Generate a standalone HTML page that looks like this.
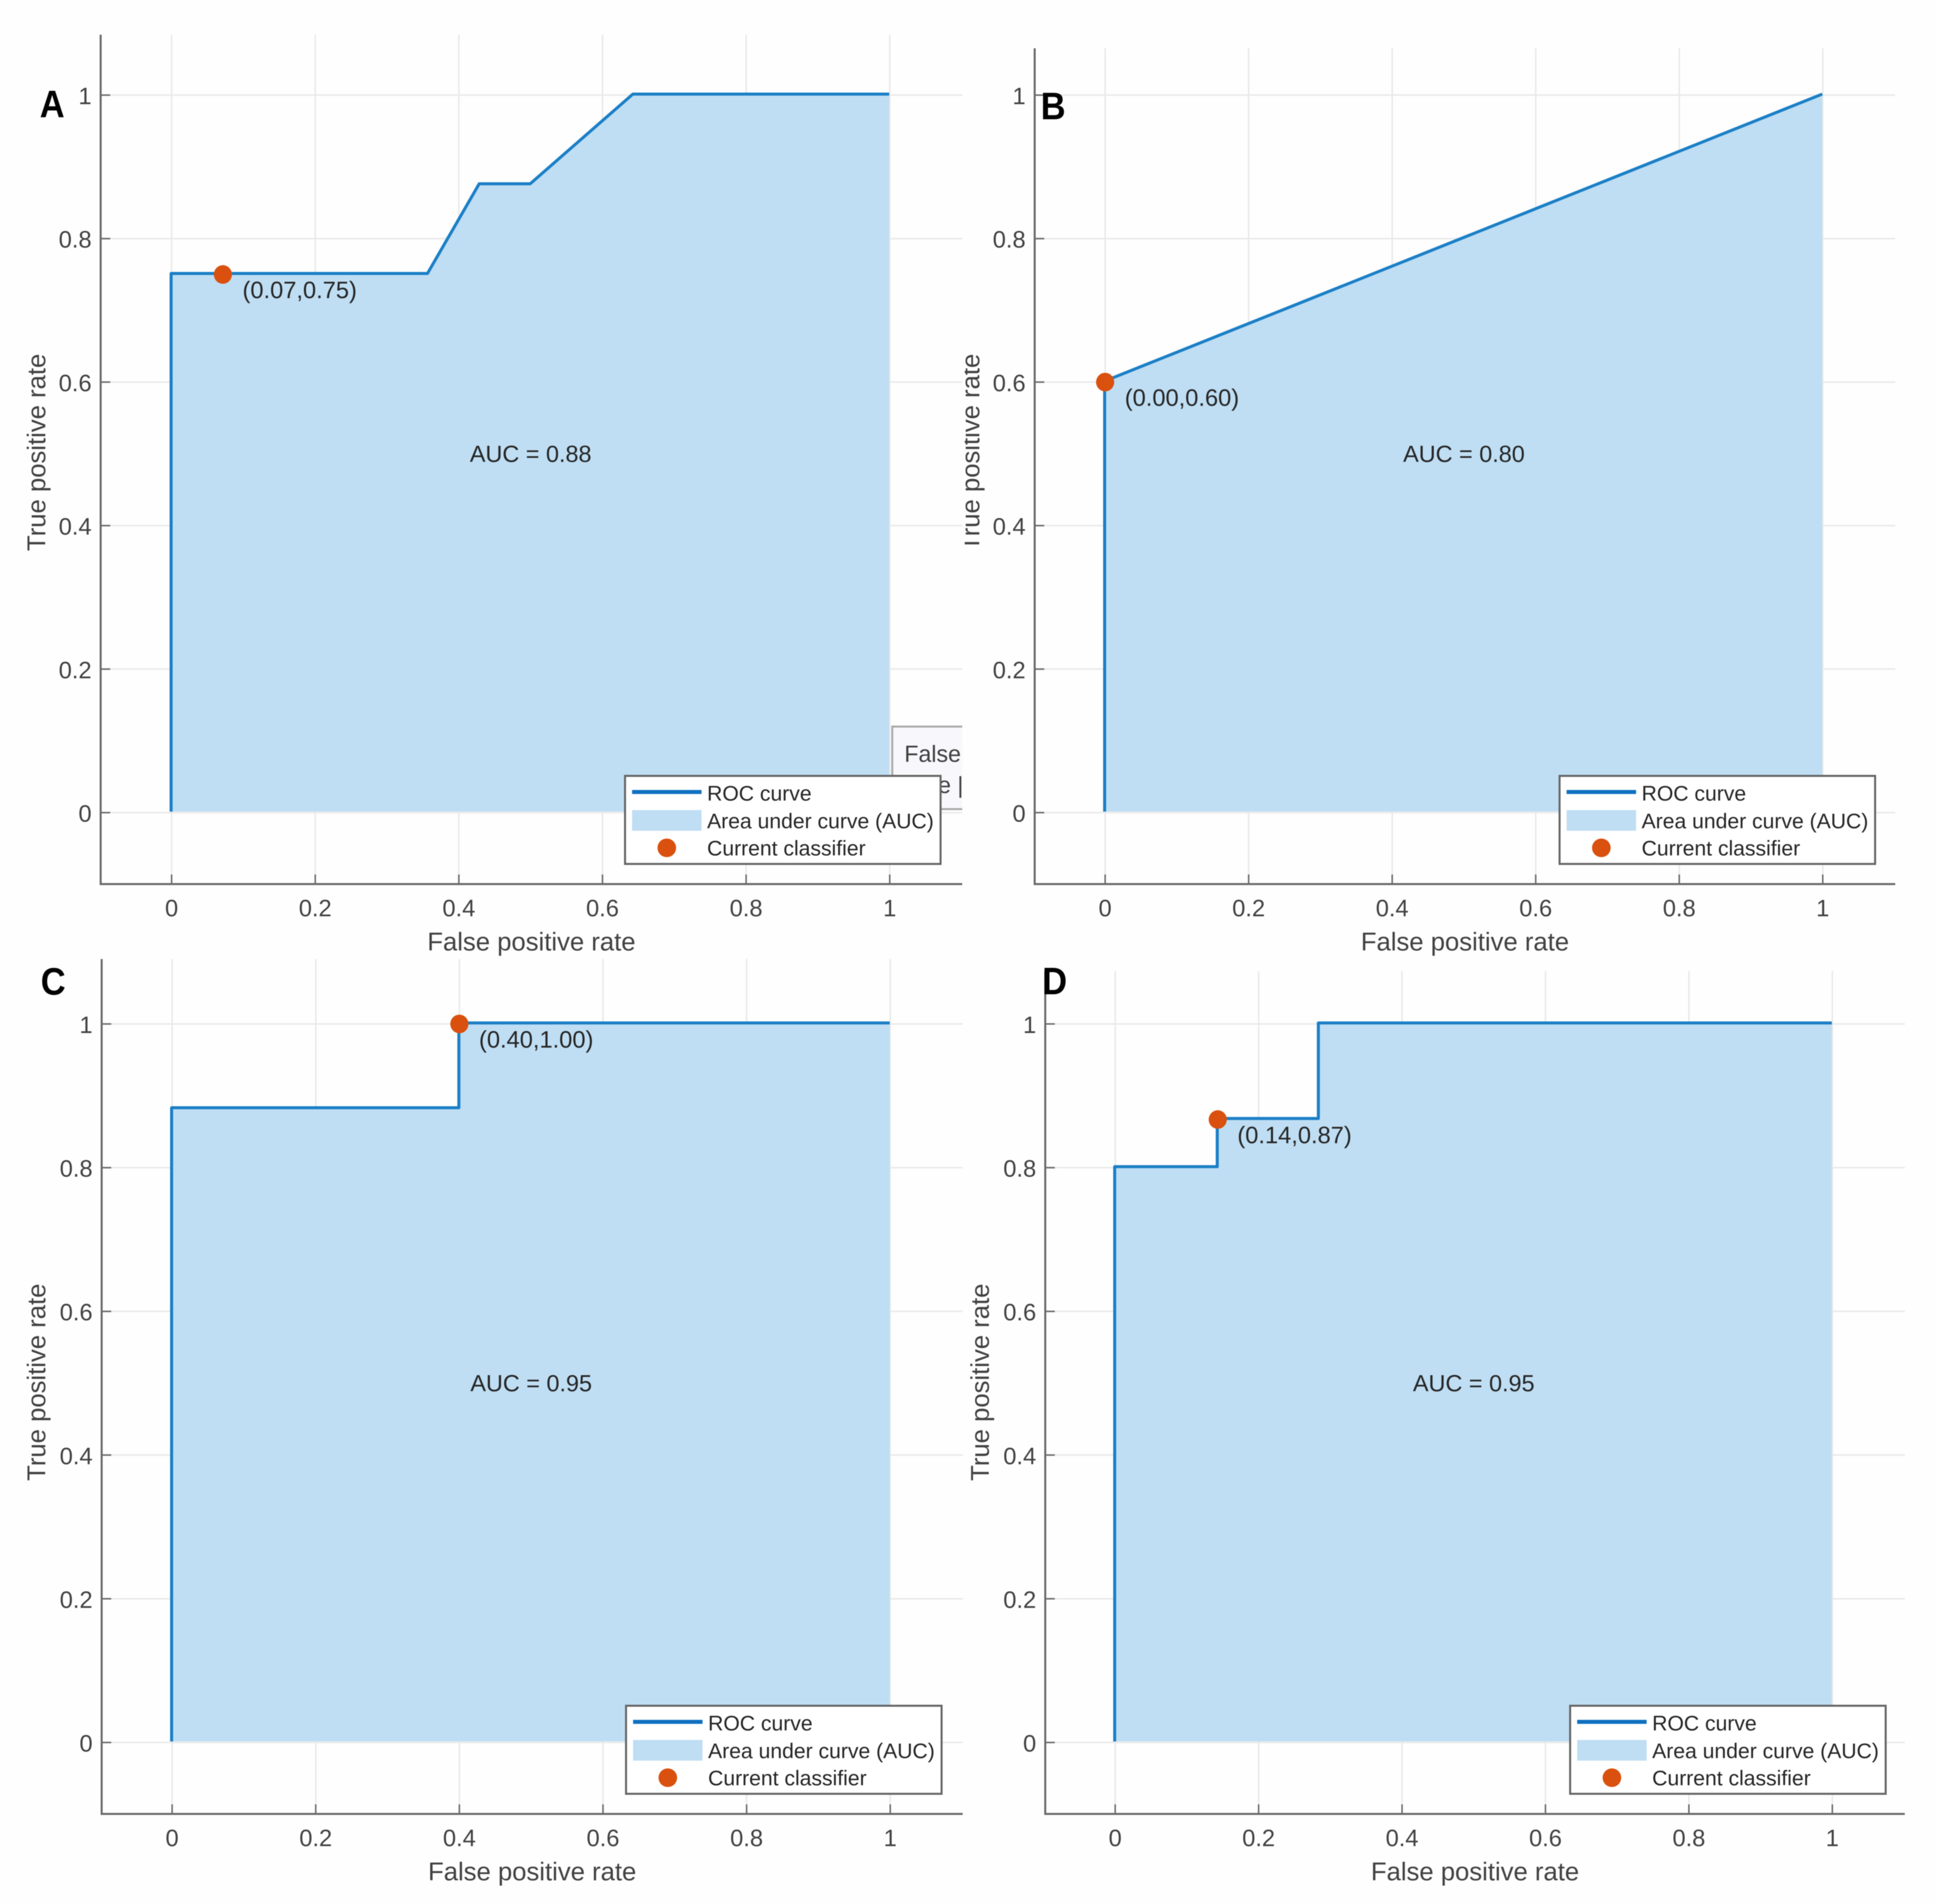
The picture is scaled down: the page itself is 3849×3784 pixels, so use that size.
<!DOCTYPE html>
<html lang="en">
<head>
<meta charset="utf-8">
<title>ROC curves for four classifiers</title>
<style>
html,body{margin:0;padding:0;background:#fefefe;}
#figure{display:block;width:3849px;height:3784px;filter:blur(0.9px);}
text{font-family:"Liberation Sans",Arial,sans-serif;}
</style>
</head>
<body>
<svg id="figure" xmlns="http://www.w3.org/2000/svg" width="3849" height="3784" viewBox="0 0 3849 3784">
<defs>
<clipPath id="clip-a"><rect x="0" y="0" width="1912" height="1900"/></clipPath>
<clipPath id="clip-b"><rect x="1917" y="0" width="1932" height="1900"/></clipPath>
</defs>
</svg>
<script>
// Shared axis ticks
const xTickValues = [0, 0.2, 0.4, 0.6, 0.8, 1];
const yTickValues = [0, 0.2, 0.4, 0.6, 0.8, 1];
const tickLabels = ['0', '0.2', '0.4', '0.6', '0.8', '1'];
const legendLabels = ['ROC curve', 'Area under curve (AUC)', 'Current classifier'];
const xAxisTitle = 'False positive rate';
const yAxisTitle = 'True positive rate';

// Panel A series
const panelACurveX = [0, 0, 0.357, 0.429, 0.5, 0.643, 1];
const panelACurveY = [0, 0.75, 0.75, 0.875, 0.875, 1, 1];
const panelAMarker = [0.0714, 0.75];
const panelAAuc = [0.88];

// Panel B series
const panelBCurveX = [0, 0, 1];
const panelBCurveY = [0, 0.6, 1];
const panelBMarker = [0, 0.6];
const panelBAuc = [0.80];

// Panel C series
const panelCCurveX = [0, 0, 0.4, 0.4, 1];
const panelCCurveY = [0, 0.882, 0.882, 1, 1];
const panelCMarker = [0.4, 1];
const panelCAuc = [0.95];

// Panel D series
const panelDCurveX = [0, 0, 0.143, 0.143, 0.284, 0.284, 1];
const panelDCurveY = [0, 0.8, 0.8, 0.867, 0.867, 1, 1];
const panelDMarker = [0.143, 0.867];
const panelDAuc = [0.95];

const SVG_NS = 'http://www.w3.org/2000/svg';
const root = document.getElementById('figure');

function make(tag, attrs, parent) {
  const node = document.createElementNS(SVG_NS, tag);
  for (const k in attrs) node.setAttribute(k, attrs[k]);
  parent.appendChild(node);
  return node;
}

function drawPanel(p) {
  const sx = v => p.x0 + (p.x1 - p.x0) * v;
  const sy = v => p.y0 + (p.y1 - p.y0) * v;

  const g = make('g', {}, root);
  
  

  // Gridlines
  xTickValues.forEach(v => {
    const gl = make('line', {x1: sx(v), x2: sx(v), y1: p.top, y2: p.bottom, stroke: '#e9e9e9', 'stroke-width': 3}, g);
    
    
  });
  yTickValues.forEach(v => {
    const gl = make('line', {x1: p.left, x2: p.right, y1: sy(v), y2: sy(v), stroke: '#e9e9e9', 'stroke-width': 3}, g);
    
    
  });

  // Area under curve
  const pts = p.curveX.map((v, i) => sx(v) + ',' + sy(p.curveY[i]));
  const area = make('polygon', {points: pts.join(' ') + ' ' + sx(1) + ',' + sy(0), fill: '#bfdef3', transform: 'translate(-1,-2)'}, g);
  
  

  // Data tip fragment behind the legend (panel A only)
  if (p.id === 'a') {
    const tip = make('g', {'clip-path': 'url(#clip-a)'}, g);
    
    
    make('rect', {x: 1773, y: 1444, width: 180, height: 164, fill: '#f8f8fc', stroke: '#aaaaaa', 'stroke-width': 4}, tip);
    const t1 = make('text', {x: 1797, y: 1514, 'font-size': 46, fill: '#404040'}, tip);
    t1.textContent = 'False';
    const t2 = make('text', {x: 1841, y: 1576, 'font-size': 46, fill: '#404040'}, tip);
    t2.textContent = 'ke |';
  }

  // ROC curve
  const curve = make('polyline', {points: pts.join(' '), fill: 'none', stroke: '#1b7fc6', 'stroke-width': 6, 'stroke-linejoin': 'round', transform: 'translate(-1,-2)'}, g);
  
  

  // Axes
  const yAxis = make('line', {x1: p.left, x2: p.left, y1: p.top, y2: p.bottom + 2, stroke: '#6a6a6a', 'stroke-width': 4}, g);
  
  
  const xAxis = make('line', {x1: p.left, x2: p.right, y1: p.bottom, y2: p.bottom, stroke: '#6a6a6a', 'stroke-width': 4}, g);
  
  

  // Ticks and tick labels
  xTickValues.forEach((v, i) => {
    const t = make('line', {x1: sx(v), x2: sx(v), y1: p.bottom, y2: p.bottom - 19, stroke: '#6a6a6a', 'stroke-width': 3}, g);
    
    
    const l = make('text', {x: sx(v), y: p.bottom + 64, 'font-size': 47, fill: '#424242', 'text-anchor': 'middle'}, g);
    
    
    l.textContent = tickLabels[i];
  });
  yTickValues.forEach((v, i) => {
    const t = make('line', {x1: p.left, x2: p.left + 19, y1: sy(v), y2: sy(v), stroke: '#6a6a6a', 'stroke-width': 3}, g);
    
    
    const l = make('text', {x: p.left - 18, y: sy(v) + 18, 'font-size': 47, fill: '#424242', 'text-anchor': 'end'}, g);
    
    
    l.textContent = tickLabels[i];
  });

  // Axis titles
  const xt = make('text', {x: (p.left + p.right) / 2, y: p.bottom + 132, 'font-size': 51, fill: '#424242', 'text-anchor': 'middle'}, g);
  
  
  xt.textContent = xAxisTitle;

  const ytHolder = make('g', p.id === 'b' ? {'clip-path': 'url(#clip-b)'} : {}, g);
  const yt = make('text', {transform: 'translate(' + p.titleX + ',' + p.titleY + ') rotate(-90)', 'font-size': 51, fill: '#424242', 'text-anchor': 'middle'}, ytHolder);
  
  
  yt.textContent = yAxisTitle;

  // AUC annotation
  const auc = make('text', {x: (sx(0) + sx(1)) / 2, y: sy(0.5) + 16, 'font-size': 46.5, fill: '#262626', 'text-anchor': 'middle'}, g);
  
  
  auc.textContent = 'AUC = ' + p.auc[0].toFixed(2);

  // Current classifier marker and label
  const mk = make('ellipse', {cx: sx(p.marker[0]), cy: sy(p.marker[1]), rx: 18, ry: 18.5, fill: '#d9500f'}, g);
  
  
  const ml = make('text', {x: sx(p.marker[0]) + 39, y: sy(p.marker[1]) + 47, 'font-size': 47, fill: '#262626'}, g);
  
  
  ml.textContent = '(' + p.marker[0].toFixed(2) + ',' + p.marker[1].toFixed(2) + ')';

  // Legend
  const L = p.legendX, T = p.legendY;
  const lg = make('g', {}, g);
  
  
  make('rect', {x: L, y: T, width: 627, height: 175, fill: '#ffffff', stroke: '#666666', 'stroke-width': 4}, lg);
  const ll = make('line', {x1: L + 14, x2: L + 152, y1: T + 32, y2: T + 32, stroke: '#0f70c0', 'stroke-width': 8}, lg);
  
  
  const lp = make('rect', {x: L + 14, y: T + 68, width: 138, height: 41, fill: '#bfdef3'}, lg);
  
  
  const lm = make('ellipse', {cx: L + 83, cy: T + 143, rx: 18.5, ry: 18.5, fill: '#d9500f'}, lg);
  
  
  [T + 49, T + 104, T + 158].forEach((y, i) => {
    const tx = make('text', {x: L + 163, y: y, 'font-size': 42, fill: '#262626'}, lg);
    
    
    tx.textContent = legendLabels[i];
  });

  // Panel letter
  const letter = make('text', {transform: 'translate(' + p.letterX + ',' + p.letterY + ') scale(0.9,1)', 'font-size': 76, 'font-weight': 'bold', fill: '#000000'}, g);
  
  
  letter.textContent = p.id.toUpperCase();
}

drawPanel({id: 'a', curveX: panelACurveX, curveY: panelACurveY, marker: panelAMarker, auc: panelAAuc,
  left: 200, right: 1912, top: 69, bottom: 1757, x0: 341, x1: 1768, y0: 1615, y1: 189,
  titleX: 90, titleY: 899, legendX: 1242, legendY: 1542, letterX: 79, letterY: 233});
drawPanel({id: 'b', curveX: panelBCurveX, curveY: panelBCurveY, marker: panelBMarker, auc: panelBAuc,
  left: 2056, right: 3766, top: 96, bottom: 1757, x0: 2196, x1: 3622, y0: 1615, y1: 189,
  titleX: 1946, titleY: 899, legendX: 3099, legendY: 1542, letterX: 2068, letterY: 237});
drawPanel({id: 'c', curveX: panelCCurveX, curveY: panelCCurveY, marker: panelCMarker, auc: panelCAuc,
  left: 202, right: 1913, top: 1906, bottom: 3605, x0: 342, x1: 1769, y0: 3463, y1: 2035,
  titleX: 90, titleY: 2747, legendX: 1244, legendY: 3390, letterX: 81, letterY: 1977});
drawPanel({id: 'd', curveX: panelDCurveX, curveY: panelDCurveY, marker: panelDMarker, auc: panelDAuc,
  left: 2077, right: 3785, top: 1930, bottom: 3605, x0: 2216, x1: 3641, y0: 3463, y1: 2035,
  titleX: 1965, titleY: 2747, legendX: 3120, legendY: 3390, letterX: 2071, letterY: 1976});
</script>
</body>
</html>
